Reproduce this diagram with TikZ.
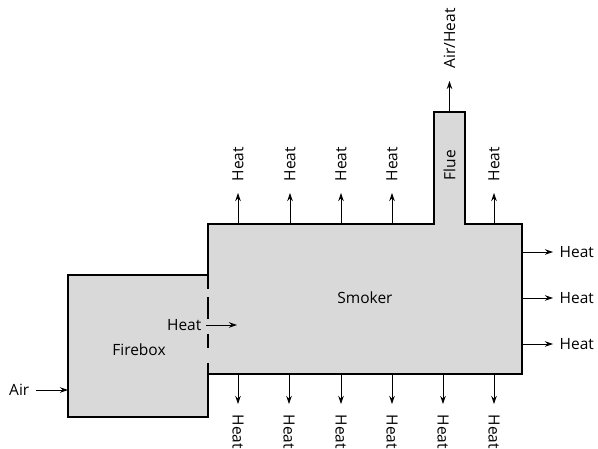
\documentclass[tikz,border=0pt]{standalone}
\usepackage{fontspec}
\setmainfont{Open Sans}
\usetikzlibrary{arrows.meta}
\definecolor{boxfill}{RGB}{217,217,217}
\begin{document}
\begin{tikzpicture}[x=1pt,y=-1pt,
  lbl/.style={font=\fontsize{15.5}{17}\selectfont, inner sep=1.5pt},
  wall/.style={line width=1.2pt, line join=miter},
  flow/.style={line width=0.9pt, -{Stealth[length=8pt,width=5.5pt]}}]
\useasboundingbox (0,0) rectangle (598,449);
% fills
\fill[boxfill] (68,275) rectangle (208,417);
\fill[boxfill] (208,224) -- (434,224) -- (434,112) -- (465,112) -- (465,224) -- (522,224) -- (522,374) -- (208,374) -- cycle;
% outlines
\draw[wall] (208,289) -- (208,224) -- (434,224) -- (434,112) -- (465,112) -- (465,224) -- (522,224) -- (522,374) -- (208,374) -- (208,417) -- (68,417) -- (68,275) -- (208,275);
\draw[wall] (208,297) -- (208,319);
\draw[wall] (208,334) -- (208,348);
\draw[wall] (208,363) -- (208,374);
% labels
\node[lbl] (smoker) at (365,298) {Smoker};
\node[lbl] (firebox) at (139,350) {Firebox};
\node[lbl, rotate=90] (flue) at (449.5,165) {Flue};
\node[lbl, anchor=east] (air) at (31,390) {Air};
\node[lbl, anchor=east] (heatin) at (203,325) {Heat};
% air in
\coordinate (airstart) at (36,390);
\coordinate (airend) at (68,390);
\draw[flow] (airstart) -- (airend);
% heat in
\coordinate (hin1) at (206,325);
\coordinate (hin2) at (237,325);
\draw[flow] (hin1) -- (hin2);
% flue out
\coordinate (fl1) at (449.5,112);
\coordinate (fl2) at (449.5,81);
\draw[flow] (fl1) -- (fl2);
\node[lbl, rotate=90, anchor=west] (airheat) at (449.5,70) {Air/Heat};
% top heat
\foreach \x [count=\i] in {238,290,341,392,494}{
  \coordinate (ts\i) at (\x,224);
  \coordinate (te\i) at (\x,193);
  \draw[flow] (ts\i) -- (te\i);
  \node[lbl, rotate=90, anchor=west] (th\i) at (\x,183) {Heat};
}
% bottom heat
\foreach \x [count=\i] in {238,289,341,392,443,494}{
  \coordinate (bs\i) at (\x,374);
  \coordinate (be\i) at (\x,404);
  \draw[flow] (bs\i) -- (be\i);
  \node[lbl, rotate=-90, anchor=west] (bh\i) at (\x,413) {Heat};
}
% right heat
\foreach \y [count=\i] in {252,298,344}{
  \coordinate (rs\i) at (522,\y);
  \coordinate (re\i) at (553,\y);
  \draw[flow] (rs\i) -- (re\i);
  \node[lbl, anchor=west] (rh\i) at (558,\y) {Heat};
}
\end{tikzpicture}
\end{document}
